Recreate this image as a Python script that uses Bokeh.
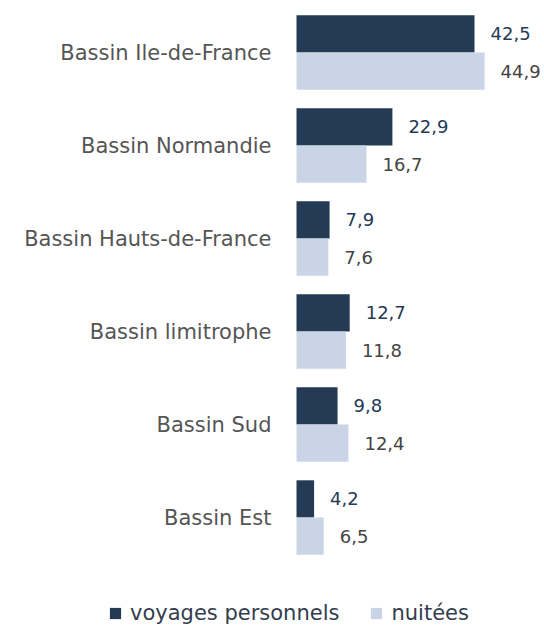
from bokeh.plotting import figure
from bokeh.models import ColumnDataSource, Range1d, Legend, LegendItem
from bokeh.transform import dodge
from bokeh.core.properties import value
from bokeh.embed import file_html
from bokeh.resources import INLINE

categories = ["Bassin Ile-de-France", "Bassin Normandie", "Bassin Hauts-de-France",
              "Bassin limitrophe", "Bassin Sud", "Bassin Est"]
voyages = [42.5, 22.9, 7.9, 12.7, 9.8, 4.2]
nuitees = [44.9, 16.7, 7.6, 11.8, 12.4, 6.5]

fmt = lambda v: f"{v:.1f}".replace(".", ",")
pos = list(range(len(categories)))
src = ColumnDataSource(dict(
    pos=pos, cat=categories, zero=[0] * len(categories), voy=voyages, nui=nuitees,
    voy_lbl=[fmt(v) for v in voyages], nui_lbl=[fmt(v) for v in nuitees],
))

FONT = "DejaVu Sans"
DARK = "#253a55"
LIGHT = "#c9d5e6"

W, H = 544, 626
PX_PER_UNIT = 178 / 42.5
ZERO_X = 296
BAND = 93
FIRST_Y = 52

p = figure(width=W, height=H, output_backend="svg", toolbar_location=None,
           y_range=Range1d(-FIRST_Y / BAND + H / BAND, -FIRST_Y / BAND),
           x_range=Range1d(-ZERO_X / PX_PER_UNIT, (W - ZERO_X) / PX_PER_UNIT),
           min_border_left=0, min_border_right=0, min_border_top=0, min_border_bottom=0)
p.outline_line_color = None
p.xgrid.visible = False
p.ygrid.visible = False
p.xaxis.visible = False
p.yaxis.visible = False

r1 = p.hbar(y=dodge("pos", -0.2), right="voy", left=0, height=0.4,
            source=src, color=DARK, line_color=None)
r2 = p.hbar(y=dodge("pos", 0.2), right="nui", left=0, height=0.4,
            source=src, color=LIGHT, line_color=None)

p.text(x="zero", y="pos", text="cat", source=src, x_offset=-25,
       text_align="right", text_baseline="middle", text_font=value(FONT),
       text_font_size="21px", text_color="#555555")

p.text(x="voy", y=dodge("pos", -0.2), text="voy_lbl", source=src,
       x_offset=16, text_baseline="middle", text_font=value(FONT),
       text_font_size="18px", text_color=DARK)
p.text(x="nui", y=dodge("pos", 0.2), text="nui_lbl", source=src,
       x_offset=16, text_baseline="middle", text_font=value(FONT),
       text_font_size="18px", text_color="#444444")

legend = Legend(items=[LegendItem(label="voyages personnels", renderers=[r1]),
                       LegendItem(label="nuitées", renderers=[r2])],
                orientation="horizontal", location=(108, 1),
                label_text_font=FONT, label_text_font_size="21px",
                label_text_color="#333d4d", glyph_width=14, glyph_height=14,
                spacing=30, border_line_color=None, background_fill_alpha=0,
                margin=0, padding=0, label_standoff=8)
p.add_layout(legend, "center")

open("out.html", "w").write(file_html(p, INLINE))
